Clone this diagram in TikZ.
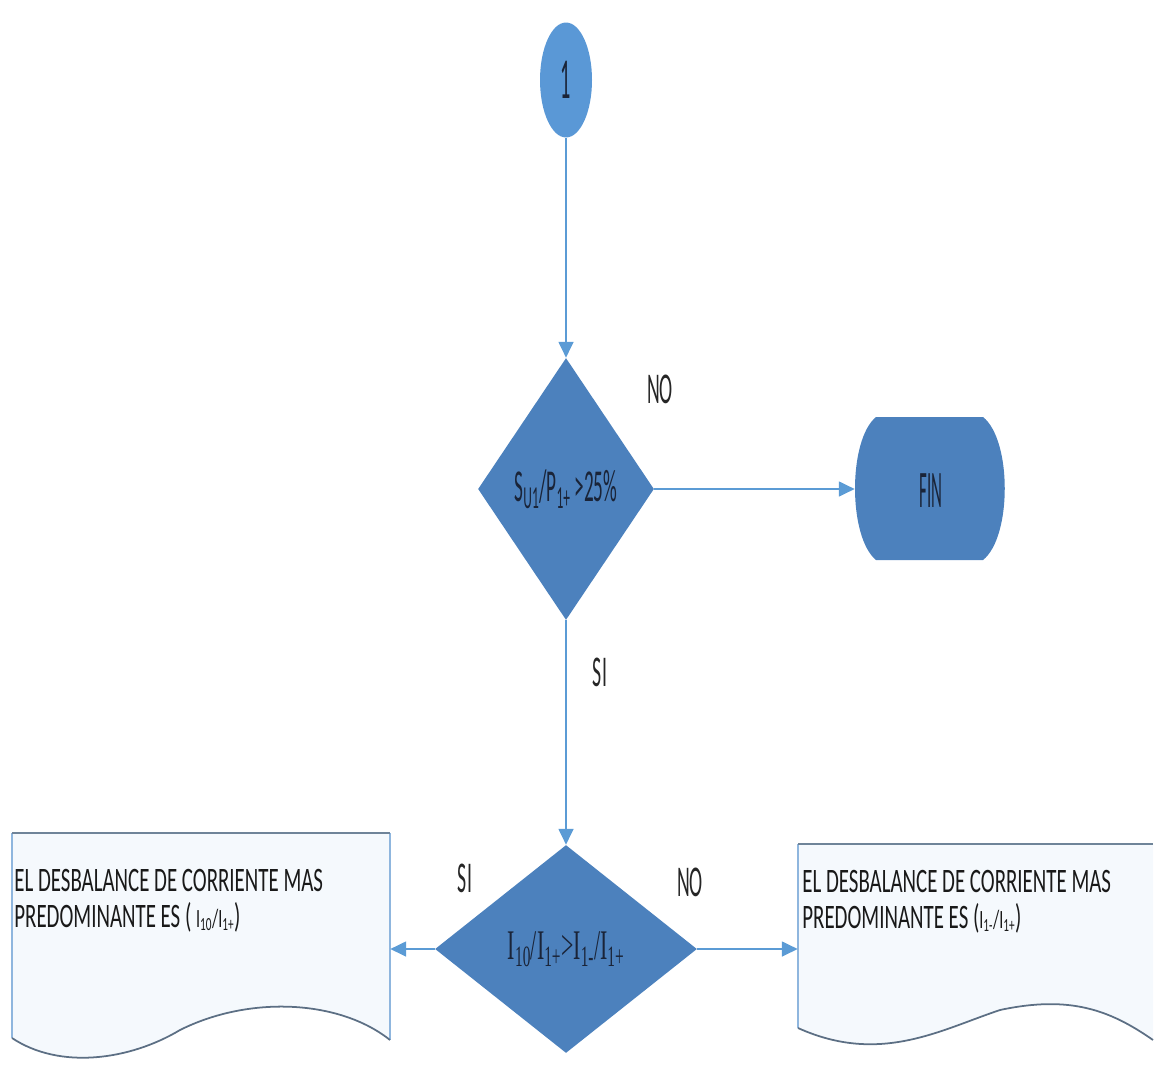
\documentclass[tikz,border=0pt]{standalone}
\usepackage{fontspec}
\usepackage{graphicx}
\setmainfont{Carlito}
\newfontfamily\serifI{Liberation Serif}
\usetikzlibrary{shapes.geometric,arrows.meta}
\definecolor{circfill}{HTML}{5A98D6}
\definecolor{shapefill}{HTML}{4C81BD}
\definecolor{linec}{HTML}{5B9BD5}
\definecolor{txtdark}{HTML}{1A2438}
\definecolor{doctop}{HTML}{6F8499}
\definecolor{docside}{HTML}{8FB6DE}
\definecolor{docwave}{HTML}{5C6F84}
\definecolor{docfill}{HTML}{F5F9FD}
\newcommand{\sqz}[2]{\scalebox{#1}[1]{#2}}
\tikzset{
  conn/.style={draw=linec, line width=0.9pt, -{Triangle[length=9pt,width=8.5pt]}},
  lbl/.style={inner sep=0pt, font=\fontsize{25}{25}\selectfont, text=black!85},
  doctext/.style={inner sep=0pt, anchor=west, font=\fontsize{19.5}{19.5}\selectfont, text=black!90},
}
\begin{document}
\begin{tikzpicture}[x=0.02cm,y=-0.02cm]
\useasboundingbox (0,0) rectangle (1155,1068);
% start connector
\node[ellipse, fill=circfill, draw=none, minimum width=1.04cm, minimum height=2.3cm, inner sep=0pt,
  font=\fontsize{33}{33}\selectfont, text=txtdark] (start) at (566,80) {\sqz{0.35}{1}};
% decision 1
\node[diamond, fill=shapefill, draw=none, shape aspect=0.67, minimum width=3.52cm, minimum height=5.24cm,
  inner sep=0pt, font=\fontsize{26}{26}\selectfont, text=txtdark] (d1) at (566,489)
  {\sqz{0.42}{S\textsubscript{U1}/P\textsubscript{1+} >25\%}};
% FIN terminator
\node[minimum width=3.04cm, minimum height=2.86cm, inner sep=0pt] (fin) at (931,489) {};
\fill[shapefill] (876,417) -- (983,417) .. controls (1012,440) and (1012,537) .. (983,560)
  -- (876,560) .. controls (848,537) and (848,440) .. (876,417) -- cycle;
\node[inner sep=0pt, font=\fontsize{30}{30}\selectfont, text=txtdark] (fintext) at (931,491) {\sqz{0.32}{FIN}};
% decision 2
\node[diamond, fill=shapefill, draw=none, shape aspect=1.26, minimum width=5.24cm, minimum height=4.16cm,
  inner sep=0pt, font=\serifI\fontsize{24}{24}\selectfont, text=txtdark] (d2) at (566,949)
  {\sqz{0.52}{I\textsubscript{10}/I\textsubscript{1+}{>}I\textsubscript{1-}/I\textsubscript{1+}}};
% left document
\node[minimum width=7.56cm, minimum height=4.14cm, inner sep=0pt] (ldoc) at (201,936) {};
\fill[docfill] (12,833) -- (390,833) -- (390,1040) .. controls (340,1000) and (250,995) .. (180,1030)
  .. controls (130,1060) and (60,1070) .. (12,1038) -- cycle;
\draw[docside, line width=0.8pt] (12,833) -- (12,1038);
\draw[docside, line width=0.8pt] (390,833) -- (390,1040);
\draw[doctop, line width=1.4pt] (12,833) -- (390,833);
\draw[docwave, line width=1pt] (390,1040) .. controls (340,1000) and (250,995) .. (180,1030)
  .. controls (130,1060) and (60,1070) .. (12,1038);
\node[doctext] (lt1) at (14,880) {\sqz{0.61}{EL DESBALANCE DE CORRIENTE MAS}};
\node[doctext] (lt2) at (14,917) {\sqz{0.61}{PREDOMINANTE ES ( {\fontsize{15}{15}\selectfont I\textsubscript{10}/I\textsubscript{1+}})}};
% right document
\node[minimum width=7.1cm, minimum height=3.92cm, inner sep=0pt] (rdoc) at (975.5,942) {};
\fill[docfill] (798,844) -- (1153,844) -- (1153,1040) .. controls (1110,1010) and (1070,995) .. (1000,1010)
  .. controls (940,1030) and (880,1065) .. (798,1028) -- cycle;
\draw[docside, line width=0.8pt] (798,844) -- (798,1028);
\draw[doctop, line width=1.4pt] (798,844) -- (1153,844);
\draw[docwave, line width=1pt] (1153,1040) .. controls (1110,1010) and (1070,995) .. (1000,1010)
  .. controls (940,1030) and (880,1065) .. (798,1028);
\node[doctext] (rt1) at (802,881) {\sqz{0.61}{EL DESBALANCE DE CORRIENTE MAS}};
\node[doctext] (rt2) at (802,918) {\sqz{0.61}{PREDOMINANTE ES ({\fontsize{15}{15}\selectfont I\textsubscript{1-}/I\textsubscript{1+}})}};
% connectors
\draw[conn] (start.south) -- (d1.north);
\draw[conn] (d1.east) -- (d1.east -| fin.west);
\draw[conn] (d1.south) -- (d2.north);
\draw[conn] (d2.west) -- (d2.west -| ldoc.east);
\draw[conn] (d2.east) -- (d2.east -| rdoc.west);
% labels
\node[lbl] (no1) at (660,389) {\sqz{0.45}{NO}};
\node[lbl] (si1) at (600,672) {\sqz{0.45}{SI}};
\node[lbl] (si2) at (465,878) {\sqz{0.45}{SI}};
\node[lbl] (no2) at (690,882) {\sqz{0.45}{NO}};
\end{tikzpicture}
\end{document}
